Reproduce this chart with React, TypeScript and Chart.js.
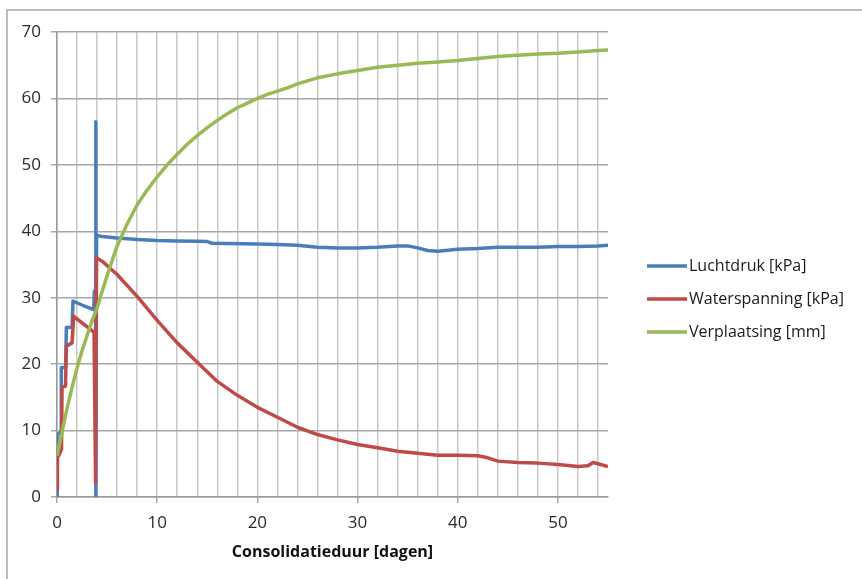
import React, { useEffect, useRef } from 'react';
import { Chart, registerables } from 'chart.js';

Chart.register(...registerables);

// ---- data ----
const seriesNames = ['Luchtdruk [kPa]', 'Waterspanning [kPa]', 'Verplaatsing [mm]'];
const seriesColors = ['#4A7EBB', '#BE4B48', '#98B954'];

const xTitle = 'Consolidatieduur [dagen]';
const xTickValues = [0, 2, 4, 6, 8, 10, 12, 14, 16, 18, 20, 22, 24, 26, 28, 30, 32, 34, 36, 38, 40, 42, 44, 46, 48, 50, 52, 54];
const xLabelValues = [0, 10, 20, 30, 40, 50];
const yTickValues = [0, 10, 20, 30, 40, 50, 60, 70];

const luchtT = [0, 0.02, 0.4, 0.43, 0.87, 0.93, 1.5, 1.6, 2.5, 3.67, 3.73, 3.85, 3.87, 3.89, 3.95, 4.5, 6, 8, 10, 12, 14, 15, 15.5, 17, 20, 22, 24, 26, 28, 30, 32, 34, 35, 36, 37, 38, 40, 42, 44, 46, 48, 50, 52, 54, 55];
const luchtV = [0, 9.3, 9.8, 19.5, 19.5, 25.5, 25.5, 29.5, 28.9, 28.2, 31, 31, 56.5, 0, 39.4, 39.2, 39.0, 38.75, 38.6, 38.55, 38.5, 38.45, 38.2, 38.15, 38.1, 38.0, 37.9, 37.6, 37.5, 37.5, 37.6, 37.8, 37.8, 37.5, 37.1, 37.0, 37.3, 37.4, 37.6, 37.6, 37.6, 37.7, 37.7, 37.8, 37.9];

const waterT = [0, 0.05, 0.2, 0.45, 0.5, 0.85, 0.93, 1.5, 1.67, 2.5, 3.7, 3.85, 3.93, 4.5, 6, 8, 10, 12, 14, 16, 18, 20, 22, 24, 26, 28, 30, 32, 34, 36, 38, 40, 42, 43, 44, 46, 48, 50, 52, 53, 53.5, 54, 55];
const waterV = [1.2, 6, 6.3, 7.2, 16.5, 16.7, 22.7, 23.2, 27.2, 26.2, 24.8, 2.2, 36, 35.5, 33.5, 30.2, 26.6, 23.2, 20.3, 17.4, 15.3, 13.5, 12, 10.5, 9.4, 8.6, 7.9, 7.4, 6.9, 6.6, 6.3, 6.3, 6.2, 5.9, 5.4, 5.2, 5.1, 4.9, 4.6, 4.7, 5.2, 5.0, 4.6];

const verplT = [0, 0.5, 1, 1.5, 2, 2.5, 3, 3.5, 4, 5, 6, 7, 8, 9, 10, 11, 12, 13, 14, 15, 16, 17, 18, 19, 20, 21, 22, 23, 24, 26, 28, 30, 32, 34, 36, 38, 40, 42, 44, 46, 48, 50, 52, 54, 55];
const verplV = [6.2, 9.8, 13.3, 16.5, 19.4, 22, 24.3, 26.5, 28.5, 33.3, 37.8, 41.1, 44, 46.2, 48.2, 50, 51.6, 53.1, 54.4, 55.6, 56.7, 57.7, 58.6, 59.3, 60, 60.6, 61.1, 61.6, 62.2, 63.1, 63.7, 64.2, 64.7, 65, 65.3, 65.5, 65.7, 66, 66.3, 66.5, 66.7, 66.8, 67, 67.2, 67.3];

const toPoints = (t: number[], v: number[]) => t.map((x, i) => ({ x, y: v[i] }));

const FONT = '"Open Sans", "Liberation Sans", sans-serif';

const framePlugin = {
  id: 'frame',
  beforeDraw(chart: any) {
    const ctx = chart.ctx;
    ctx.save();
    ctx.fillStyle = '#ffffff';
    ctx.fillRect(0, 0, chart.width, chart.height);
    ctx.strokeStyle = '#a6a6a6';
    ctx.lineWidth = 1.5;
    ctx.beginPath();
    ctx.moveTo(7, chart.height);
    ctx.lineTo(7, 10);
    ctx.lineTo(chart.width, 10);
    ctx.stroke();
    ctx.restore();
  },
};

const sideLegendPlugin = {
  id: 'sideLegend',
  afterDraw(chart: any) {
    const ctx = chart.ctx;
    ctx.save();
    chart.data.datasets.forEach((ds: any, i: number) => {
      const y = 266 + i * 33;
      ctx.strokeStyle = ds.borderColor;
      ctx.lineWidth = 3.5;
      ctx.beginPath();
      ctx.moveTo(647, y);
      ctx.lineTo(687, y);
      ctx.stroke();
      ctx.fillStyle = '#1a1a1a';
      ctx.font = `16px ${FONT}`;
      ctx.textBaseline = 'middle';
      ctx.textAlign = 'left';
      ctx.fillText(ds.label, 689, y);
    });
    ctx.restore();
  },
};

export default function App() {
  const canvasRef = useRef<HTMLCanvasElement | null>(null);

  useEffect(() => {
    if (!canvasRef.current) return;
    const seriesT = [luchtT, waterT, verplT];
    const seriesV = [luchtV, waterV, verplV];
    const chart = new Chart(canvasRef.current, {
      type: 'line',
      data: {
        datasets: seriesNames.map((name, i) => ({
          label: name,
          data: toPoints(seriesT[i], seriesV[i]),
          borderColor: seriesColors[i],
          backgroundColor: seriesColors[i],
          borderWidth: 3.5,
          pointRadius: 0,
          tension: 0,
          fill: false,
          order: 3 - i,
          borderJoinStyle: 'round' as const,
        })),
      },
      options: {
        animation: false,
        responsive: false,
        devicePixelRatio: 1,
        layout: { padding: { left: 0, top: 32, right: 254, bottom: 0 } },
        plugins: {
          legend: { display: false },
          tooltip: { enabled: false },
        },
        scales: {
          x: {
            type: 'linear',
            min: 0,
            max: 55,
            afterBuildTicks: (scale: any) => {
              scale.ticks = xTickValues.map((v) => ({ value: v }));
            },
            afterFit: (scale: any) => {
              scale.height = 82;
            },
            ticks: {
              autoSkip: false,
              maxRotation: 0,
              padding: 10,
              color: '#2a2a2a',
              font: { family: FONT, size: 17 },
              callback: (v: any) => (xLabelValues.includes(Number(v)) ? String(v) : ''),
            },
            grid: {
              color: '#c8c8c8',
              lineWidth: 1.5,
              tickLength: 6,
              tickColor: (c: any) => (c.tick && xLabelValues.includes(c.tick.value) ? '#a6a6a6' : 'rgba(0,0,0,0)'),
            },
            border: { color: '#9a9a9a', width: 1.5 },
            title: {
              display: true,
              text: xTitle,
              color: '#111111',
              font: { family: FONT, size: 16, weight: 'bold' },
              padding: { top: 0, bottom: 17 },
            },
          },
          y: {
            type: 'linear',
            min: 0,
            max: 70,
            afterBuildTicks: (scale: any) => {
              scale.ticks = yTickValues.map((v) => ({ value: v }));
            },
            afterFit: (scale: any) => {
              scale.width = 57;
            },
            ticks: {
              padding: 10,
              color: '#2a2a2a',
              font: { family: FONT, size: 17 },
            },
            grid: {
              color: '#a6a6a6',
              lineWidth: 1.5,
              tickLength: 6,
              tickColor: '#a6a6a6',
            },
            border: { color: '#9a9a9a', width: 1.5 },
          },
        },
      },
      plugins: [framePlugin, sideLegendPlugin],
    });
    return () => chart.destroy();
  }, []);

  return (
    <div style={{ position: 'absolute', left: 0, top: 0, width: 862, height: 579 }}>
      <canvas ref={canvasRef} width={862} height={579} style={{ display: 'block' }} />
    </div>
  );
}
